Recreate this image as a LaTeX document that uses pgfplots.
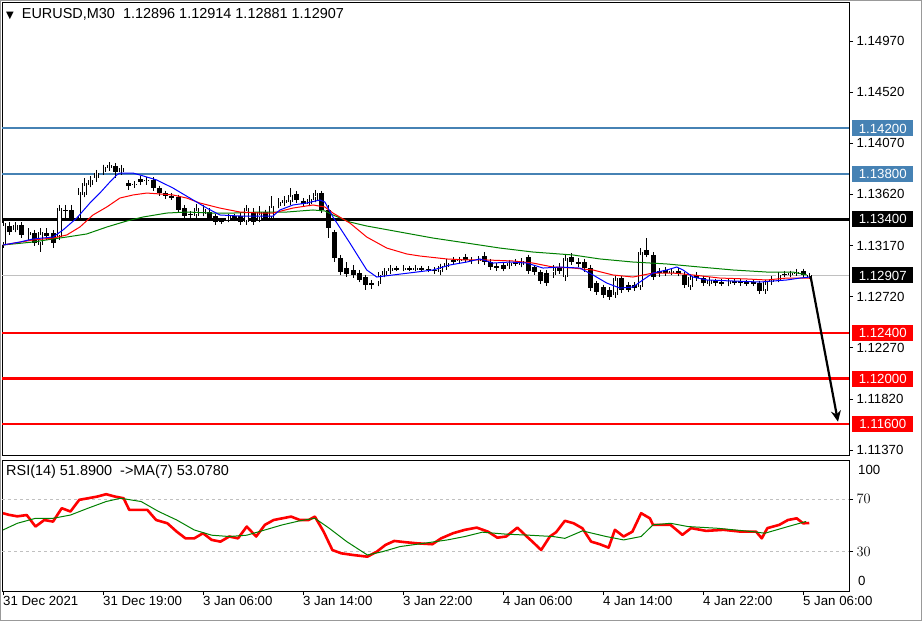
\documentclass[border=0pt]{standalone}
\usepackage{pgfplots}
\pgfplotsset{compat=1.18}
\usepackage{pgfplotstable}
\usepackage{fontspec}
\setmainfont{Liberation Sans}
\newfontfamily\symfont{DejaVu Sans}
\usetikzlibrary{arrows.meta}

\definecolor{lvlblue}{RGB}{70,130,180}
\definecolor{mtred}{RGB}{255,0,0}
\definecolor{mtgreen}{RGB}{0,128,0}
\definecolor{mtblue}{RGB}{0,0,255}
\definecolor{pricegrey}{RGB}{192,192,192}

% EURUSD M30 candles: bar index, open, high, low, close
\pgfplotstableread{
i o h l c
0 1.13175 1.13412 1.13148 1.13368
1 1.13342 1.13377 1.13263 1.13289
2 1.13307 1.13377 1.13289 1.13351
3 1.13351 1.13377 1.13236 1.13263
4 1.13263 1.13324 1.13219 1.13289
5 1.13280 1.13307 1.13166 1.13192
6 1.13175 1.13324 1.13113 1.13289
7 1.13280 1.13324 1.13219 1.13254
8 1.13280 1.13307 1.13148 1.13192
9 1.13245 1.13527 1.13219 1.13500
10 1.13483 1.13527 1.13395 1.13474
11 1.13483 1.13527 1.13395 1.13412
12 1.13412 1.13676 1.13395 1.13641
13 1.13615 1.13764 1.13597 1.13720
14 1.13703 1.13782 1.13685 1.13747
15 1.13764 1.13835 1.13729 1.13808
16 1.13817 1.13879 1.13791 1.13861
17 1.13852 1.13896 1.13835 1.13879
18 1.13870 1.13888 1.13764 1.13817
19 1.13817 1.13879 1.13800 1.13852
20 1.13720 1.13747 1.13659 1.13694
21 1.13703 1.13729 1.13676 1.13712
22 1.13756 1.13782 1.13712 1.13729
23 1.13738 1.13764 1.13703 1.13747
24 1.13747 1.13773 1.13659 1.13676
25 1.13676 1.13694 1.13606 1.13632
26 1.13632 1.13650 1.13580 1.13606
27 1.13606 1.13632 1.13571 1.13597
28 1.13597 1.13615 1.13465 1.13483
29 1.13500 1.13527 1.13412 1.13430
30 1.13448 1.13465 1.13412 1.13439
31 1.13430 1.13536 1.13412 1.13500
32 1.13448 1.13527 1.13430 1.13492
33 1.13465 1.13500 1.13395 1.13412
34 1.13430 1.13448 1.13360 1.13377
35 1.13386 1.13412 1.13360 1.13381
36 1.13395 1.13448 1.13377 1.13430
37 1.13430 1.13448 1.13386 1.13404
38 1.13430 1.13465 1.13360 1.13377
39 1.13377 1.13527 1.13360 1.13500
40 1.13465 1.13500 1.13351 1.13377
41 1.13395 1.13518 1.13377 1.13465
42 1.13465 1.13483 1.13395 1.13412
43 1.13412 1.13606 1.13395 1.13518
44 1.13518 1.13588 1.13500 1.13553
45 1.13544 1.13606 1.13518 1.13571
46 1.13553 1.13676 1.13536 1.13615
47 1.13624 1.13650 1.13544 1.13571
48 1.13562 1.13588 1.13518 1.13536
49 1.13536 1.13615 1.13527 1.13580
50 1.13571 1.13659 1.13553 1.13632
51 1.13632 1.13641 1.13456 1.13483
52 1.13483 1.13527 1.13236 1.13324
53 1.13289 1.13307 1.13025 1.13060
54 1.13060 1.13087 1.12911 1.12937
55 1.12972 1.13025 1.12893 1.12920
56 1.12955 1.12999 1.12884 1.12911
57 1.12928 1.12955 1.12849 1.12867
58 1.12893 1.12911 1.12779 1.12823
59 1.12840 1.12867 1.12788 1.12823
60 1.12832 1.12928 1.12814 1.12911
61 1.12911 1.12972 1.12893 1.12946
62 1.12946 1.12999 1.12937 1.12972
63 1.12972 1.12990 1.12946 1.12964
64 1.12964 1.12999 1.12946 1.12972
65 1.12972 1.12990 1.12946 1.12964
66 1.12964 1.12999 1.12946 1.12972
67 1.12972 1.12990 1.12946 1.12964
68 1.12964 1.12990 1.12937 1.12955
69 1.12955 1.12981 1.12928 1.12946
70 1.12937 1.13008 1.12928 1.12990
71 1.12981 1.13052 1.12972 1.13016
72 1.13043 1.13069 1.13008 1.13025
73 1.13034 1.13069 1.13016 1.13043
74 1.13069 1.13096 1.13025 1.13043
75 1.13043 1.13069 1.13016 1.13034
76 1.13034 1.13078 1.13025 1.13052
77 1.13078 1.13113 1.13008 1.13025
78 1.13025 1.13052 1.12955 1.12981
79 1.12990 1.13016 1.12946 1.12981
80 1.12999 1.13025 1.12946 1.12964
81 1.12990 1.13043 1.12972 1.13016
82 1.13025 1.13052 1.12999 1.13016
83 1.12999 1.13060 1.12990 1.13034
84 1.13069 1.13087 1.12928 1.12946
85 1.12981 1.12999 1.12911 1.12937
86 1.12937 1.12955 1.12832 1.12858
87 1.12928 1.12955 1.12823 1.12840
88 1.12911 1.12999 1.12884 1.12972
89 1.12981 1.13016 1.12920 1.12946
90 1.12893 1.13087 1.12858 1.13060
91 1.13069 1.13104 1.13008 1.13025
92 1.13025 1.13060 1.12981 1.13008
93 1.13025 1.13052 1.12937 1.12972
94 1.12972 1.12999 1.12770 1.12796
95 1.12840 1.12858 1.12735 1.12761
96 1.12805 1.12823 1.12708 1.12735
97 1.12779 1.12805 1.12691 1.12717
98 1.12735 1.12902 1.12708 1.12884
99 1.12884 1.12902 1.12752 1.12779
100 1.12823 1.12840 1.12761 1.12779
101 1.12823 1.12840 1.12770 1.12796
102 1.12805 1.13148 1.12779 1.13113
103 1.13131 1.13236 1.13069 1.13087
104 1.13087 1.13113 1.12876 1.12893
105 1.12946 1.12972 1.12893 1.12928
106 1.12955 1.12981 1.12902 1.12928
107 1.12937 1.12972 1.12911 1.12946
108 1.12946 1.12972 1.12902 1.12920
109 1.12911 1.12928 1.12796 1.12823
110 1.12805 1.12920 1.12788 1.12893
111 1.12911 1.12937 1.12858 1.12884
112 1.12884 1.12902 1.12814 1.12840
113 1.12832 1.12884 1.12814 1.12867
114 1.12858 1.12876 1.12823 1.12840
115 1.12849 1.12876 1.12823 1.12840
116 1.12832 1.12876 1.12814 1.12858
117 1.12858 1.12876 1.12832 1.12849
118 1.12858 1.12876 1.12823 1.12840
119 1.12849 1.12867 1.12823 1.12840
120 1.12849 1.12867 1.12814 1.12832
121 1.12840 1.12858 1.12752 1.12770
122 1.12770 1.12867 1.12752 1.12849
123 1.12849 1.12902 1.12832 1.12876
124 1.12867 1.12928 1.12849 1.12911
125 1.12920 1.12946 1.12893 1.12911
126 1.12911 1.12946 1.12893 1.12928
127 1.12928 1.12964 1.12911 1.12937
128 1.12946 1.12964 1.12893 1.12911
129 1.12896 1.12914 1.12881 1.12907
}\candles

\newcommand\tickfont{\fontsize{13.3}{15}\selectfont}
\newcommand\capfont{\fontsize{14.5}{16}\selectfont}
\tikzset{tag/.style={anchor=west, inner sep=0pt, minimum width=61bp, minimum height=16bp,
  text=white, font=\tickfont}}

\begin{document}
\begin{tikzpicture}[x=1bp, y=1bp]

% ---------------- price panel ----------------
\begin{axis}[
  name=main,
  at={(2,-2)}, anchor=north west,
  scale only axis, width=847bp, height=453bp,
  xmin=-0.16, xmax=135.36, ymin=1.11327, ymax=1.15313,
  xtick=\empty,
  ytick={1.1137,1.1182,1.1227,1.1272,1.1317,1.1362,1.1407,1.1452,1.1497},
  yticklabels={1.11370,1.11820,1.12270,1.12720,1.13170,1.13620,1.14070,1.14520,1.14970},
  ytick pos=right, yticklabel pos=right,
  tick align=outside, major tick length=4bp,
  tick style={black, line width=0.8bp},
  axis line style={black, line width=0.8bp},
  tick label style={font=\tickfont},
  clip mode=individual,
]
% support / resistance levels
\addplot[lvlblue, line width=2bp] coordinates {(-0.16,1.142) (135.36,1.142)};
\addplot[lvlblue, line width=2bp] coordinates {(-0.16,1.138) (135.36,1.138)};
\addplot[black, line width=2.5bp] coordinates {(-0.16,1.134) (135.36,1.134)};
\addplot[mtred, line width=2.5bp] coordinates {(-0.16,1.124) (135.36,1.124)};
\addplot[mtred, line width=2.5bp] coordinates {(-0.16,1.120) (135.36,1.120)};
\addplot[mtred, line width=2.5bp] coordinates {(-0.16,1.116) (135.36,1.116)};
\addplot[pricegrey, line width=1.2bp] coordinates {(-0.16,1.12907) (135.36,1.12907)};

% candle wicks
\addplot[draw=none, mark=none,
  error bars/.cd, y dir=minus, y explicit, error mark=none,
  error bar style={draw=black, line width=1bp}]
  table[x=i, y=h, y error minus expr={\thisrow{h}-\thisrow{l}}] {\candles};
% all bodies (black)
\addplot[draw=none, mark=none,
  error bars/.cd, y dir=both, y explicit,
  error bar style={draw=black, line width=5bp},
  error mark=-, error mark options={draw=black, line width=0.9bp, mark size=2.5bp}]
  table[x=i, y expr={0.5*(\thisrow{o}+\thisrow{c})},
        y error expr={0.5*abs(\thisrow{c}-\thisrow{o})}] {\candles};
% hollow bullish bodies
\addplot[draw=none, mark=none,
  error bars/.cd, y dir=both, y explicit,
  error bar style={draw=white, line width=3.2bp},
  error mark=-, error mark options={draw=black, line width=0.9bp, mark size=2.5bp}]
  table[x=i, y expr={\thisrow{c}>\thisrow{o} ? 0.5*(\thisrow{o}+\thisrow{c}) : nan},
        y error expr={0.5*abs(\thisrow{c}-\thisrow{o})}] {\candles};

% moving averages
\addplot[mtgreen, line width=1bp] coordinates {
(0,1.13175) (4.8,1.13201) (8,1.13228) (10.2,1.13245) (13.4,1.13272) (16.6,1.13333)
(19.8,1.13386) (22.4,1.13421) (26.2,1.13456) (29.4,1.13465) (33.6,1.13456) (36.8,1.13456)
(41.1,1.13465) (45.4,1.13465) (49.6,1.13483) (51.5,1.13474) (52.8,1.13439) (55.5,1.13377)
(58.2,1.13342) (63.5,1.13289) (68.8,1.13236) (74.2,1.13192) (79.5,1.13148) (84.8,1.13113)
(91.2,1.13087) (95.5,1.13052) (100.8,1.13025) (106.2,1.13008) (111.5,1.12981) (116.8,1.12955)
(122.2,1.12937) (126.4,1.12937) (128.6,1.12911)};
\addplot[mtred, line width=1bp] coordinates {
(0,1.13175) (4.8,1.13219) (8,1.13236) (10.2,1.13263) (12.3,1.13333) (14.4,1.13439)
(16.6,1.13509) (18.7,1.13588) (20.8,1.13615) (23,1.13632) (25.1,1.13624) (27.2,1.13615)
(29.4,1.13588) (31.5,1.13544) (34.7,1.13500) (37.9,1.13465) (41.1,1.13456) (43.2,1.13456)
(46.4,1.13500) (49.6,1.13527) (51.5,1.13509) (52.8,1.13456) (55.5,1.13368) (58.2,1.13245)
(61.4,1.13148) (64.6,1.13096) (66.7,1.13078) (71,1.13052) (74.2,1.13043) (77.4,1.13043)
(81.6,1.13034) (84.8,1.13016) (88,1.12981) (91.2,1.12972) (94.4,1.12955) (97.6,1.12911)
(100.8,1.12893) (104,1.12928) (107.2,1.12928) (110.4,1.12911) (114.7,1.12884) (119,1.12876)
(122.2,1.12867) (125.4,1.12884) (129.1,1.12884)};
\addplot[mtblue, line width=1bp] coordinates {
(0,1.13175) (2.7,1.13201) (4.8,1.13228) (8,1.13245) (9.6,1.13307) (11.8,1.13412)
(13.9,1.13544) (15.5,1.13632) (17.1,1.13729) (18.2,1.13791) (18.7,1.13808) (20.8,1.13808)
(21.9,1.13791) (24.6,1.13747) (27.2,1.13676) (29.9,1.13588) (32.6,1.13500) (34.7,1.13439)
(37.9,1.13430) (43.2,1.13430) (44.3,1.13483) (46.4,1.13527) (48.6,1.13544) (50.7,1.13571)
(51.5,1.13553) (52.8,1.13421) (55.5,1.13192) (58.2,1.12955) (59.8,1.12893) (62.4,1.12911)
(66.2,1.12937) (68.8,1.12955) (71.5,1.12999) (74.2,1.13025) (76.3,1.13052) (78.4,1.13016)
(81.1,1.13025) (83.8,1.13016) (86.4,1.12972) (89.1,1.12981) (92.3,1.12972) (94.4,1.12911)
(96.6,1.12840) (98.7,1.12796) (100.8,1.12805) (101.9,1.12849) (104,1.12928) (106.2,1.12955)
(107.8,1.12981) (108.8,1.12955) (110.4,1.12893) (112.6,1.12867) (116.8,1.12858) (121.1,1.12849)
(123.2,1.12858) (125.4,1.12867) (127.5,1.12884) (129.1,1.12893)};

% projected move
\addplot[black, line width=2.2bp, -{Stealth[length=11bp, width=10bp]}]
  coordinates {(129.2,1.12902) (133.6,1.1162)};

% price tags
\node[tag, fill=lvlblue] at (axis cs:135.85,1.142) {1.14200};
\node[tag, fill=lvlblue] at (axis cs:135.85,1.138) {1.13800};
\node[tag, fill=black] at (axis cs:135.85,1.134) {1.13400};
\node[tag, fill=black] at (axis cs:135.85,1.12907) {1.12907};
\node[tag, fill=mtred] at (axis cs:135.85,1.124) {1.12400};
\node[tag, fill=mtred] at (axis cs:135.85,1.120) {1.12000};
\node[tag, fill=mtred] at (axis cs:135.85,1.116) {1.11600};
\end{axis}

% ---------------- RSI panel ----------------
\begin{axis}[
  name=rsi,
  at={(main.south west)}, anchor=north west, yshift=-5bp,
  scale only axis, width=847bp, height=131bp,
  xmin=-0.16, xmax=135.36, ymin=0, ymax=100,
  xtick={0,16,...,128},
  xticklabels={31 Dec 2021,31 Dec 19:00,3 Jan 06:00,3 Jan 14:00,3 Jan 22:00,4 Jan 06:00,4 Jan 14:00,4 Jan 22:00,5 Jan 06:00},
  xtick pos=bottom,
  xticklabel style={anchor=north west, inner sep=1bp, xshift=-1bp},
  ytick={30,70}, ytick pos=right, yticklabel pos=right,
  tick align=outside, major tick length=4bp,
  tick style={black, line width=0.8bp},
  axis line style={black, line width=0.8bp},
  tick label style={font=\tickfont},
  clip mode=individual,
]
\addplot[pricegrey, line width=1bp, dash pattern=on 3bp off 3bp] coordinates {(-0.16,70) (135.36,70)};
\addplot[pricegrey, line width=1bp, dash pattern=on 3bp off 3bp] coordinates {(-0.16,30) (135.36,30)};
\addplot[mtred, line width=2.6bp, line join=round] coordinates {
(0,59.4) (0.9,58.2) (2.3,57) (3.8,58) (5.2,49.2) (6.6,54.2) (8,53) (9.4,63.2) (10.8,60.7)
(12.2,69.6) (13.6,70.8) (15.1,72.1) (16.5,73.9) (17.9,72.1) (19.3,70.8) (20.2,61.9) (23.1,61.9)
(24.5,54.2) (26.3,51.7) (27.8,45.3) (29.2,40.2) (30.6,40.2) (32,44.1) (33.4,39) (34.8,37.7)
(36.2,41.6) (37.6,40.2) (39,49.2) (40.5,41.6) (41.9,50.5) (43.3,54.2) (44.7,55.5) (46.1,56.8)
(47.5,54.2) (48.9,54.2) (49.9,56.8) (51.3,45.3) (52.7,31.3) (54.1,28.8) (56,27.5) (58.3,26.2)
(59.8,30) (61.2,35.2) (62.6,38.2) (64.5,37.2) (66.3,36.4) (68.7,35.7) (70.1,40.2) (72,44.1)
(73.9,46.7) (75.8,48.4) (77.6,45.3) (79.1,40.7) (80.5,41.6) (82.3,48.4) (83.8,41.6) (84.7,37.7)
(86.1,31.3) (87.5,41.6) (88.5,44.9) (89.9,53.6) (91.3,51.7) (92.7,47.9) (94.1,37.7) (95.5,35.7)
(96.9,33.1) (97.9,46.7) (99.3,41.6) (100.7,45.3) (102.1,59.4) (103.5,55.5) (104,50.5) (106.8,50.5)
(108.7,42.9) (110.1,48) (112.5,45.9) (115.3,46.7) (118.1,45.3) (120.5,45.3) (121.4,40.2)
(122.3,48) (124.2,50.5) (125.6,54.2) (127,55.5) (128,51.7) (129,51.9)};
\addplot[mtgreen, line width=1bp] coordinates {
(0,46.6) (2.3,51.7) (5.2,55.5) (8,55.5) (10.8,58) (13.6,63.2) (16.5,68.3) (18.8,70.8)
(22.1,68.3) (24.9,60.7) (27.8,54.2) (30.6,46.6) (33.4,42.6) (36.2,41.6) (39,42.6) (41.9,46.6)
(44.7,50.5) (47.5,53.6) (49.9,55.5) (52.2,47.9) (55,37.7) (58.3,27.5) (60.7,30) (63.5,33.9)
(67.3,36.4) (71.1,39) (73.9,41.6) (76.7,44.9) (80.5,43.4) (84.2,42.6) (88,41.6) (89.9,40.2)
(92.7,45.9) (96.5,41.6) (99.3,39) (102.1,41.6) (104,50.5) (106.8,51.7) (109.6,49.2)
(114.3,47.9) (120,45.3) (121.9,44.1) (125.6,49.2) (128.5,53.1)};
\end{axis}

% panel captions and fixed RSI bounds
\node[anchor=west, inner sep=0pt, font=\capfont] at ([shift={(4bp,-12bp)}]main.north west)
  {{\symfont\fontsize{10}{10}\selectfont ▼}\ \ EURUSD,M30\ \ 1.12896 1.12914 1.12881 1.12907};
\node[anchor=west, inner sep=0pt, font=\capfont] at ([shift={(4bp,-12bp)}]rsi.north west)
  {RSI(14) 51.8900\ \ ->MA(7) 53.0780};
\node[anchor=west, inner sep=0pt, font=\tickfont] at ([shift={(9bp,-10bp)}]rsi.north east) {100};
\node[anchor=west, inner sep=0pt, font=\tickfont] at ([shift={(9bp,10bp)}]rsi.south east) {0};

% frame of the whole window
\pgfresetboundingbox
\path[use as bounding box] ([shift={(-2bp,2bp)}]main.north west) rectangle ++(922bp,-621bp);
\draw[gray!80, line width=1bp] ([shift={(-1.5bp,1.5bp)}]main.north west) rectangle ++(921bp,-620bp);
\end{tikzpicture}
\end{document}
